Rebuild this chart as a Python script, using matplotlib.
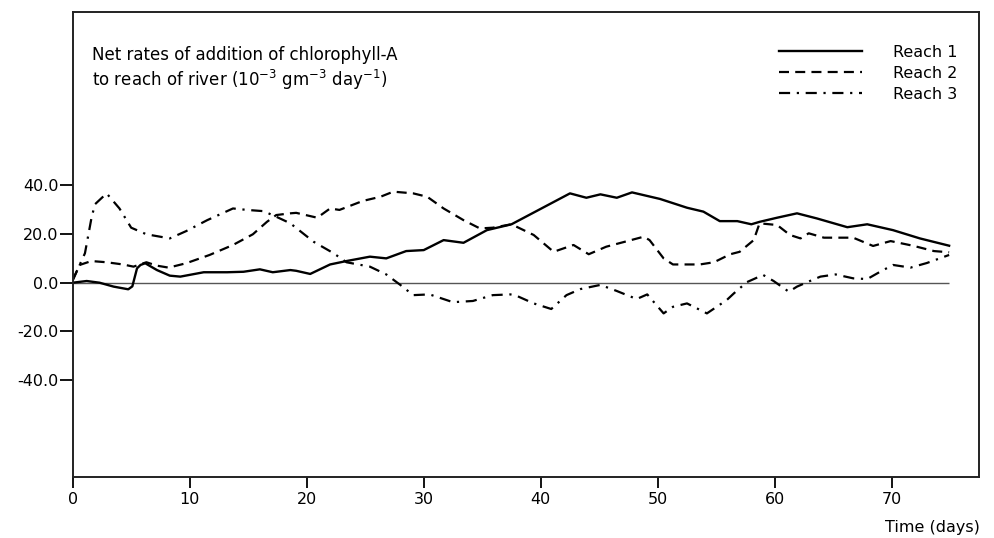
import numpy as np
import matplotlib
matplotlib.use("Agg")
import matplotlib.pyplot as plt
from matplotlib.ticker import FormatStrFormatter

plt.rcParams['font.family'] = ['DejaVu Sans']
plt.rcParams['mathtext.fontset'] = 'dejavusans'

# =====================================================
# data
# =====================================================
t1 = [0, 1.2, 2.3, 3.5, 4.75, 5.1, 5.5, 5.8, 6.2, 7.2, 8.3, 9.2, 11.2, 13.2, 14.6,
      16.0, 17.1, 18.6, 19.1, 20.3, 22.0, 23.4, 25.4, 26.8, 28.5, 30.0, 31.7, 33.4,
      35.4, 37.5, 42.5, 43.9, 45.1, 46.5, 47.8, 50.2, 52.5, 53.9, 55.3, 56.8, 58.0,
      58.7, 60.2, 61.9, 63.6, 66.2, 67.9, 70.1, 72.4, 74.9]
reach1 = [0, 0.7, 0, -1.6, -2.7, -1.5, 5.9, 7.3, 8.0, 5.2, 2.9, 2.5, 4.3, 4.3, 4.5,
          5.5, 4.3, 5.2, 4.9, 3.6, 7.5, 8.9, 10.7, 10.0, 13.0, 13.4, 17.5, 16.4,
          21.6, 24.0, 36.7, 34.9, 36.3, 34.9, 37.1, 34.4, 30.8, 29.2, 25.3, 25.3, 24.0,
          25.0, 26.7, 28.5, 26.4, 22.8, 24.0, 21.6, 18.2, 15.2]

t2 = [0, 0.6, 1.6, 2.9, 4.3, 5.2, 6.3, 7.2, 8.2, 9.7, 11.7, 13.7, 15.4, 16.6, 17.4,
      18.6, 19.1, 20.9, 22.0, 22.8, 24.8, 26.3, 27.4, 29.1, 30.3, 31.7, 33.4, 34.8,
      35.9, 37.5, 39.4, 41.1, 42.8, 44.1, 45.6, 47.4, 48.8, 49.3, 50.5, 51.3, 53.6,
      54.8, 56.2, 57.0, 58.2, 58.7, 60.2, 61.3, 62.2, 62.9, 64.2, 66.7, 68.4, 69.9,
      71.8, 73.6, 74.9]
reach2 = [1.0, 7.3, 8.9, 8.4, 7.5, 6.6, 8.4, 7.0, 6.2, 8.0, 11.4, 15.5, 19.9, 25.0, 27.8,
          28.5, 28.7, 26.7, 30.5, 29.9, 33.6, 35.3, 37.4, 36.7, 35.3, 30.5, 25.7, 22.3,
          22.6, 24.0, 19.6, 12.7, 15.5, 11.7, 14.8, 17.1, 18.9, 17.5, 10.0, 7.5, 7.5,
          8.4, 11.7, 12.7, 17.5, 24.4, 23.7, 19.6, 18.2, 20.3, 18.5, 18.5, 15.1, 17.1,
          15.2, 13.0, 12.5]

t3 = [0, 1.05, 1.6, 1.9, 2.9, 4.0, 5.0, 6.3, 8.3, 9.7, 11.5, 13.7, 14.9, 16.3, 17.4,
      18.6, 20.6, 22.3, 23.4, 25.4, 26.8, 28.0, 29.1, 30.5, 32.5, 34.2, 35.9, 37.4,
      37.9, 39.4, 40.9, 42.2, 43.4, 45.1, 46.5, 48.2, 49.1, 50.5, 51.3, 52.5, 54.2,
      55.9, 56.5, 57.6, 59.0, 59.9, 61.2, 61.9, 63.0, 63.9, 65.2, 66.7, 67.9, 69.0,
      70.1, 71.6, 73.0, 74.9]
reach3 = [1.0, 12.1, 26.4, 32.2, 36.7, 30.5, 22.6, 19.9, 18.2, 21.2, 25.7, 30.5, 29.9, 29.4, 27.1,
          24.4, 16.8, 12.1, 8.4, 6.6, 3.4, -0.9, -5.1, -4.8, -8.0, -7.5, -5.1, -4.8,
          -5.3, -8.5, -10.8, -5.1, -2.6, -0.9, -3.4, -6.7, -4.8, -12.6, -9.9, -8.5, -12.6,
          -7.1, -4.4, 0.2, 3.2, 0.7, -3.7, -1.6, 0.7, 2.5, 3.4, 1.8, 1.5, 4.5,
          7.3, 6.2, 8.1, 11.4]

x_ticks = [0, 10, 20, 30, 40, 50, 60, 70]
y_ticks = [-40, -20, 0, 20, 40]

# =====================================================
# plot
# =====================================================
fig = plt.figure(figsize=(9.94, 5.38), dpi=100)
ax = fig.add_axes([0.0731, 0.1134, 0.9119, 0.8643])

ax.hlines(0, t1[0], t1[-1], color="#555555", lw=1.0, zorder=1)

ax.plot(t1, reach1, color="black", lw=1.7, ls="-", label="Reach 1")
ax.plot(t2, reach2, color="black", lw=1.6, ls=(0, (4.5, 2.8)), label="Reach 2")
ax.plot(t3, reach3, color="black", lw=1.6, ls=(0, (5, 3, 1, 3)), label="Reach 3")

ax.set_xlim(0, 77.46)
ax.set_ylim(-79.8, 111.2)
ax.set_xticks(x_ticks)
ax.set_yticks(y_ticks)
ax.yaxis.set_major_formatter(FormatStrFormatter("%.1f"))
ax.tick_params(direction="out", width=1.3, labelsize=11.5, colors="black")
ax.tick_params(axis="x", length=8, pad=3)
ax.tick_params(axis="y", length=9.5, pad=0.5)
for s in ax.spines.values():
    s.set_linewidth(1.4)
    s.set_color("#222222")

ax.text(0.021, 0.927,
        "Net rates of addition of chlorophyll-A\n"
        "to reach of river (10$^{-3}$ gm$^{-3}$ day$^{-1}$)",
        transform=ax.transAxes, fontsize=12, va="top", ha="left", linespacing=1.2)

ax.legend(loc="upper right", bbox_to_anchor=(0.976, 0.929), frameon=False,
          fontsize=11.5, handlelength=5.2, handletextpad=1.9, labelspacing=0.37,
          borderaxespad=0, borderpad=0)

fig.text(0.986, 0.006, "Time (days)", ha="right", va="bottom", fontsize=11.5)

plt.savefig("out.png", dpi=100)
plt.close()
